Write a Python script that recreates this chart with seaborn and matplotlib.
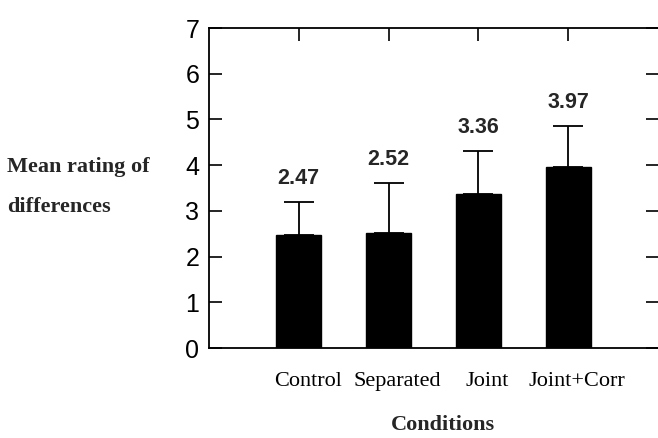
import matplotlib
matplotlib.use("Agg")
import matplotlib.pyplot as plt
import matplotlib.transforms as mtransforms
import seaborn as sns
import pandas as pd
import numpy as np

conditions = ["Control", "Separated", "Joint", "Joint+Corr"]
means = [2.47, 2.52, 3.36, 3.97]
errors_up = [0.72, 1.09, 0.95, 0.89]
value_labels = ["2.47", "2.52", "3.36", "3.97"]
yticks = [0, 1, 2, 3, 4, 5, 6, 7]

sns.set_style("white")
plt.rcParams["font.family"] = ["Liberation Sans", "DejaVu Sans"]

fig = plt.figure(figsize=(6.58, 4.38), dpi=100)
ax = fig.add_axes([209/658, 1-348/438, 1-209/658, (348-28)/438])

df = pd.DataFrame({"cond": conditions, "mean": means})
sns.barplot(data=df, x="cond", y="mean", color="black", width=0.5,
            saturation=1, errorbar=None, ax=ax, edgecolor="black")
xs = np.arange(len(conditions))
ax.errorbar(xs, means, yerr=[np.zeros(len(means)), errors_up], fmt="none",
            ecolor="black", elinewidth=1.3, capsize=11, capthick=1.3)

for x, m, e, lab in zip(xs, means, errors_up, value_labels):
    ax.annotate(lab, (x, m + e), xytext=(0, 17), textcoords="offset points",
                ha="center", va="center", fontsize=15.5, fontweight="bold",
                family="Liberation Sans")

ax.set_xlim(-1.0, 4.0)
ax.set_ylim(0, 7)
ax.set_yticks(yticks)
ax.set_yticklabels([str(t) for t in yticks], fontsize=18, family="Liberation Sans")
ax.set_xticks(xs)
ax.set_xticklabels(conditions, fontsize=16, family="Liberation Serif")

ax.tick_params(axis="y", direction="in", left=True, right=True, length=9,
               width=1.2, pad=7, colors="black")
ax.tick_params(axis="x", direction="in", bottom=False, top=True, length=9,
               width=1.2, pad=17, colors="black")
offset = mtransforms.ScaledTranslation(9/100, 0, fig.dpi_scale_trans)
for lbl in ax.xaxis.get_majorticklabels():
    lbl.set_transform(lbl.get_transform() + offset)

for s in ["left", "bottom", "top"]:
    ax.spines[s].set_visible(True)
    ax.spines[s].set_color("black")
    ax.spines[s].set_linewidth(1.3)
ax.spines["right"].set_visible(False)
ax.set_xlabel("")
ax.set_ylabel("")

fig.text(7/658, 1-172/438, "Mean rating of", ha="left", va="baseline",
         fontsize=16, fontweight="bold", family="Liberation Serif")
fig.text(7/658, 1-212/438, "differences", ha="left", va="baseline",
         fontsize=16, fontweight="bold", family="Liberation Serif")
fig.text(443/658, 1-430/438, "Conditions", ha="center", va="baseline",
         fontsize=16, fontweight="bold", family="Liberation Serif")

fig.savefig("out.png", dpi=100, facecolor="white")
